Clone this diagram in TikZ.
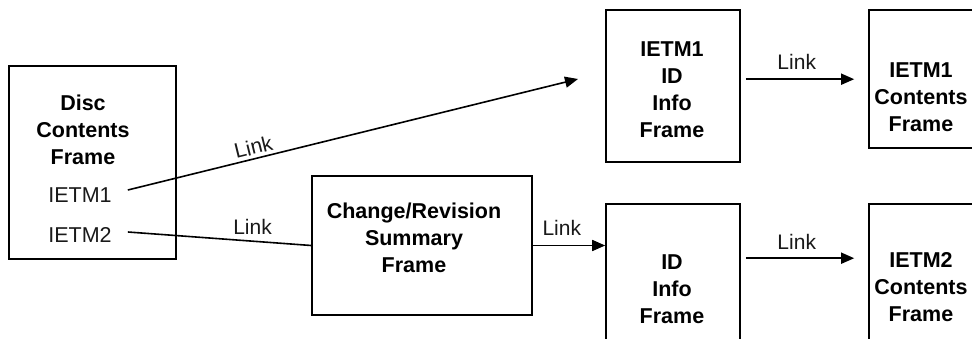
\documentclass[tikz,border=0pt]{standalone}
\usepackage{fontspec}
\setmainfont{Liberation Sans}
\usetikzlibrary{arrows.meta,calc}
\begin{document}
\begin{tikzpicture}[x=1pt,y=-1pt,
  box/.style={draw=black,line width=1.6pt,inner sep=0pt,rectangle},
  ttl/.style={align=center,text=black,font=\bfseries\fontsize{21.5}{27}\selectfont,inner sep=0pt},
  plain/.style={text=black!90,font=\fontsize{21.5}{27}\selectfont,inner sep=0pt},
  lbl/.style={text=black!90,font=\fontsize{21}{26}\selectfont,inner sep=2pt},
  conn/.style={draw=black,line width=1.6pt},
  arr/.style={conn,-{Triangle[length=13pt,width=11pt]}}]
\useasboundingbox (0,0) rectangle (972,339);
\fill[white] (0,0) rectangle (972,339);
\begin{scope}
\clip (0,0) rectangle (972,339);
% boxes
\node[box,minimum width=167pt,minimum height=193pt] (disc) at (92.5,162.5) {};
\node[box,minimum width=220pt,minimum height=139pt] (chg) at (422,245.5) {};
\node[box,minimum width=134pt,minimum height=152pt] (id1) at (673,86) {};
\node[box,minimum width=134pt,minimum height=176pt] (idb) at (673,292) {};
\node[box,minimum width=131pt,minimum height=138pt] (c1) at (934.5,79) {};
\node[box,minimum width=131pt,minimum height=176pt] (cb) at (934.5,292) {};
% texts
\node[ttl] (discT) at (83,130) {Disc\\Contents\\Frame};
\node[plain] (i1) at (80,195) {IETM1};
\node[plain] (i2) at (80,235) {IETM2};
\node[ttl] (chgT) at (414,238) {Change/Revision\\Summary\\Frame};
\node[ttl] (id1T) at (672,89.5) {IETM1\\ID\\Info\\Frame};
\node[ttl] (idbT) at (672,289) {ID\\Info\\Frame};
\node[ttl] (c1T) at (921,97) {IETM1\\Contents\\Frame};
\node[ttl] (cbT) at (921,287.5) {IETM2\\Contents\\Frame};
% connectors
\coordinate (tipA) at (578,79);
\draw[arr] ([xshift=16pt,yshift=5pt]i1.east) -- node[lbl,pos=0.285,sloped,above=1.5pt] {Link} (tipA);
\draw[conn] ([xshift=16pt,yshift=3pt]i2.east) -- node[lbl,pos=0.68,above=4pt] {Link} (chg.west);
\draw[arr] (chg.east) -- node[lbl,pos=0.4,above=7pt] {Link} (chg.east -| idb.west);
\draw[arr] ($(id1.north east)+(5,70)$) -- node[lbl,pos=0.47,above=7pt] {Link} ($(c1.north west)+(-14,70)$);
\draw[arr] ($(idb.north east)+(5,55)$) -- node[lbl,pos=0.47,above=6pt] {Link} ($(cb.north west)+(-14,55)$);
\end{scope}
\end{tikzpicture}
\end{document}
